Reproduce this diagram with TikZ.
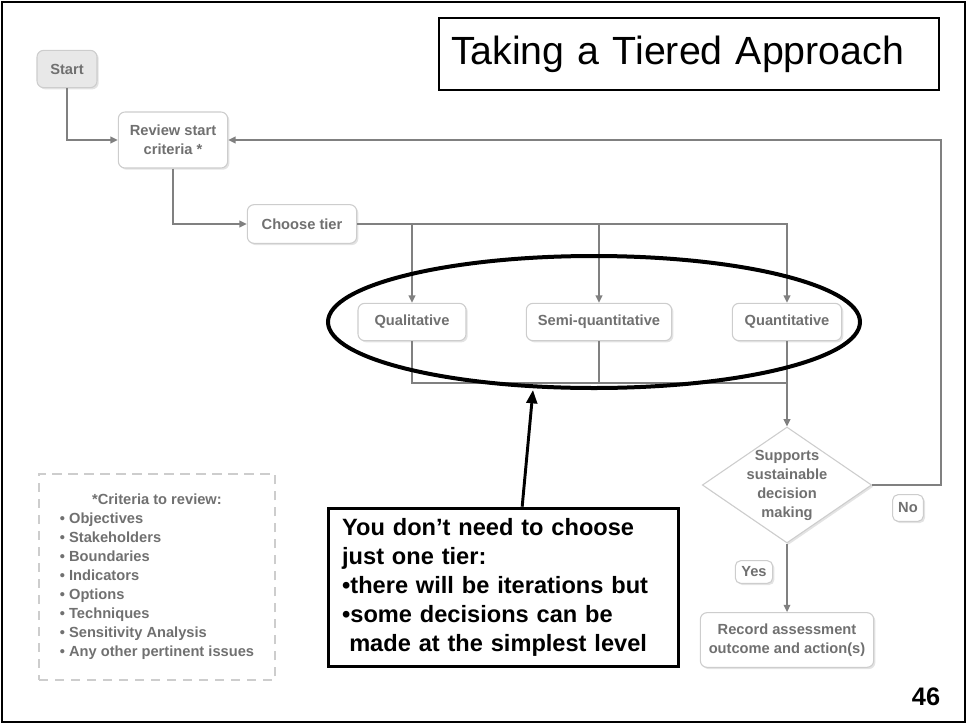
\documentclass[tikz,border=0pt]{standalone}
\usepackage{fontspec}
\setmainfont{Liberation Sans}
\usetikzlibrary{shapes.geometric,arrows.meta,shadows}
\definecolor{boxgray}{HTML}{CDCDCD}
\definecolor{txtgray}{HTML}{707070}
\definecolor{linegray}{HTML}{808080}
\begin{document}
\begin{tikzpicture}[x = 0.75pt, y = -0.75pt,
        flowbox/.style = {draw=boxgray, fill=white, line width=0.8pt, rounded corners=5pt, inner sep=0pt,
            text=txtgray, align=center, font=\bfseries\fontsize{11pt}{14.25pt}\selectfont,
            drop shadow={opacity=0.22, shadow xshift=1.3pt, shadow yshift=-1.3pt}},
        tag/.style = {flowbox, rounded corners=4pt},
        flow/.style = {draw=linegray, line width=1.2pt, -{Triangle[length=5.5pt,width=5pt]}},
        joint/.style = {draw=linegray, line width=1.2pt}]
    \useasboundingbox (0,0) rectangle (968,725);
    \draw[line width=1.8pt] (2,2) rectangle (965,722);
    \node[draw, line width=1.2pt, minimum width=375pt, minimum height=54pt, text width=357pt, inner xsep=9pt,
        align=left, font=\fontsize{29.5pt}{34pt}\selectfont] (title) at (689,54) {Taking a Tiered Approach};
    % flow chart
    \node[flowbox, fill=gray!18, minimum width=45pt, minimum height=28pt] (start) at (67,69) {Start};
    \node[flowbox, minimum width=82pt, minimum height=42pt] (review) at (173,140) {Review start\\criteria *};
    \node[flowbox, minimum width=82pt, minimum height=29pt] (choose) at (302,224) {Choose tier};
    \node[flowbox, minimum width=81pt, minimum height=28pt] (qual) at (412,322) {Qualitative};
    \node[flowbox, minimum width=109pt, minimum height=28pt] (semi) at (599,322) {Semi-quantitative};
    \node[flowbox, minimum width=82pt, minimum height=28pt] (quant) at (787,322) {Quantitative};
    \node[flowbox, diamond, rounded corners=0pt, inner sep=-6pt, aspect=1.46,
        minimum width=127pt, minimum height=87pt] (decide) at (787,485) {Supports\\sustainable\\decision\\making};
    \node[flowbox, minimum width=130pt, minimum height=41pt] (record) at (787,640) {Record assessment\\outcome and action(s)};
    \node[tag, minimum width=23pt, minimum height=20pt] (no) at (908,508) {No};
    \node[tag, minimum width=28pt, minimum height=17pt] (yes) at (754,572) {Yes};
    \coordinate (merge) at (787,383);
    \coordinate (loop) at (941,300);
    \draw[flow] (start.south) |- (review.west);
    \draw[flow] (review.south) |- (choose.west);
    \draw[flow] (choose.east) -| (qual.north);
    \draw[flow] (choose.east) -| (semi.north);
    \draw[flow] (choose.east) -| (quant.north);
    \draw[joint] (qual.south) |- (merge);
    \draw[joint] (semi.south) -- (semi.south |- merge);
    \draw[flow] (quant.south) -- (decide.north);
    \draw[flow] (decide.east) -| (loop) |- (review.east);
    \draw[flow] (decide.south) -- (record.north);
    % criteria list
    \node[draw=boxgray, line width=1.5pt, dash pattern=on 7pt off 5pt, minimum width=177pt, minimum height=155pt,
        text=txtgray, font=\bfseries\fontsize{11pt}{14.25pt}\selectfont] (crit) at (157,577)
        {\begin{tabular}{@{}l@{}}
            \multicolumn{1}{@{}c@{}}{*Criteria to review:}\\
            • Objectives\\
            • Stakeholders\\
            • Boundaries\\
            • Indicators\\
            • Options\\
            • Techniques\\
            • Sensitivity Analysis\\
            • Any other pertinent issues
        \end{tabular}};
    % remark
    \node[draw, ellipse, line width=3pt, minimum width=399pt, minimum height=99pt] (tiers) at (594,322) {};
    \node[draw, fill=white, line width=2.2pt, minimum width=263pt, minimum height=119pt, text width=242pt,
        inner xsep=10.5pt, align=left, font=\bfseries\fontsize{17.7pt}{21.75pt}\selectfont] (note) at (503.5,587.5)
        {You don’t need to choose\\just one tier:\\•there will be iterations but\\•some decisions can be\\\hspace*{0.3em}made at the simplest level};
    \coordinate (tip) at (533,390);
    \draw[line width=2.2pt, -{Triangle[length=10pt,width=8pt]}] ([xshift=14pt]note.north) -- (tip);
    \node[font=\bfseries\fontsize{19pt}{22pt}\selectfont] (page) at (926,697) {46};
\end{tikzpicture}
\end{document}
